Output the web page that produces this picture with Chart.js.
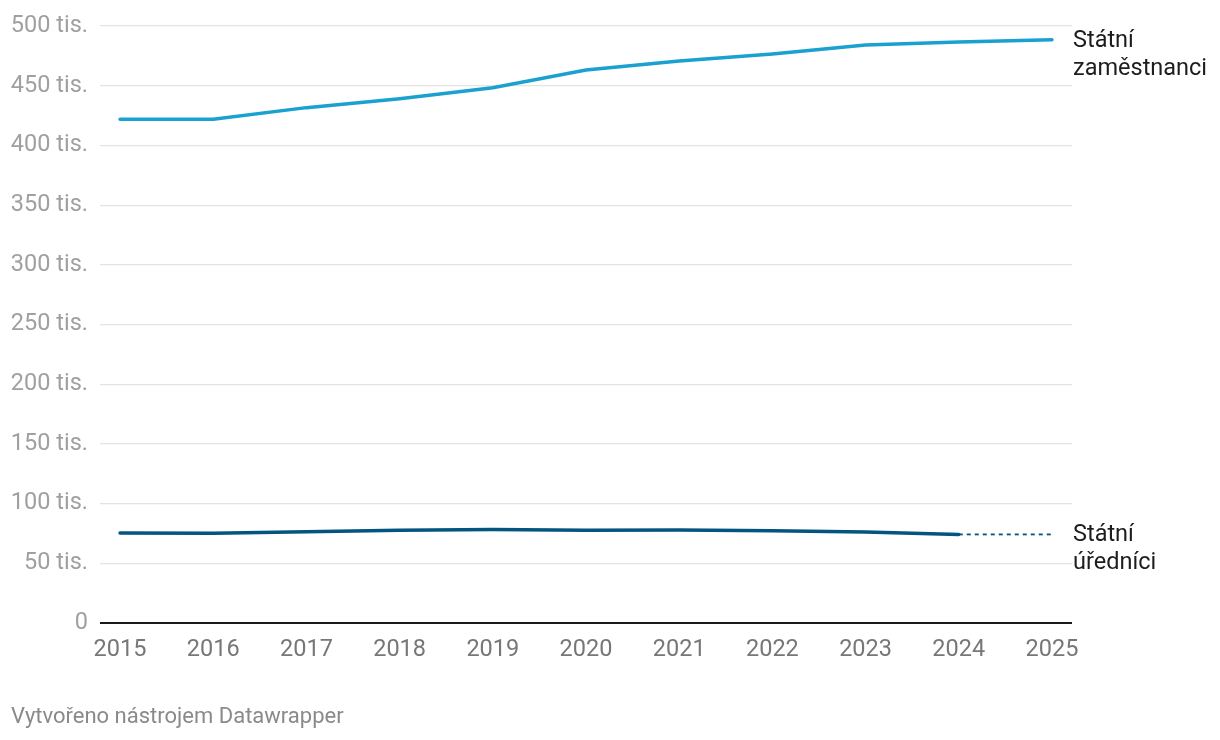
<!DOCTYPE html>
<html lang="cs">
<head>
<meta charset="utf-8">
<script src="https://cdn.jsdelivr.net/npm/chart.js@4"></script>
<style>
  html, body { margin: 0; padding: 0; background: #fff; }
  #wrap { position: relative; width: 1220px; height: 740px; }
  #footer {
    position: absolute; left: 11px; top: 703px;
    font-family: Roboto, sans-serif; font-size: 22px; color: #8a8a8a;
  }
</style>
</head>
<body>
<div id="wrap">
  <canvas id="chart" width="1220" height="740"></canvas>
  <div id="footer">Vytvořeno nástrojem Datawrapper</div>
</div>
<script>
// hodnoty v tisících
const years = [2015, 2016, 2017, 2018, 2019, 2020, 2021, 2022, 2023, 2024, 2025];
const zamestnanci = [421.9, 421.9, 431.7, 439.2, 448.3, 463.3, 470.8, 476.7, 484.2, 486.7, 488.6];
const urednici = [75.3, 75.2, 76.5, 77.6, 78.4, 77.7, 78.0, 77.2, 76.2, 74.2];
const yTicks = [0, 50, 100, 150, 200, 250, 300, 350, 400, 450, 500];

const colorZam = '#1aa1d0';
const colorUred = '#03557f';

function toPoints(values) {
    return values.map((v, i) => ({ x: years[i], y: v }));
}

const lastUred = urednici[urednici.length - 1];
const dashed = [
    { x: years[urednici.length - 1], y: lastUred },
    { x: years[years.length - 1], y: lastUred }
];

// popisky řad vpravo od grafu
const lineLabels = {
    id: 'lineLabels',
    afterDatasetsDraw(chart) {
        const ctx = chart.ctx;
        const yScale = chart.scales.y;
        const x = chart.chartArea.right + 1;
        const items = [
            { lines: ['Státní', 'zaměstnanci'], value: zamestnanci[zamestnanci.length - 1] },
            { lines: ['Státní', 'úředníci'], value: lastUred }
        ];
        ctx.save();
        ctx.font = '23.5px Roboto, sans-serif';
        ctx.fillStyle = '#1d1d1d';
        ctx.textAlign = 'left';
        ctx.textBaseline = 'middle';
        items.forEach(item => {
            const y0 = yScale.getPixelForValue(item.value) + 1;
            item.lines.forEach((t, i) => ctx.fillText(t, x, y0 + i * 28));
        });
        ctx.restore();
    }
};

new Chart(document.getElementById('chart'), {
    type: 'line',
    data: {
        datasets: [
            {
                label: 'Státní zaměstnanci',
                data: toPoints(zamestnanci),
                borderColor: colorZam,
                borderWidth: 3.5,
                borderCapStyle: 'round',
                pointRadius: 0,
                tension: 0
            },
            {
                label: 'Státní úředníci',
                data: toPoints(urednici),
                borderColor: colorUred,
                borderWidth: 3.5,
                borderCapStyle: 'round',
                pointRadius: 0,
                tension: 0
            },
            {
                label: 'Státní úředníci (odhad)',
                data: dashed,
                borderColor: colorUred,
                borderWidth: 1.8,
                borderDash: [4, 4],
                pointRadius: 0
            }
        ]
    },
    options: {
        responsive: false,
        animation: false,
        layout: { padding: { top: 19, right: 148, left: 0, bottom: 0 } },
        plugins: { legend: { display: false }, tooltip: { enabled: false } },
        scales: {
            x: {
                type: 'linear',
                min: years[0] - 0.215,
                max: years[years.length - 1] + 0.215,
                afterFit(scale) { scale.height = 117; },
                afterBuildTicks(scale) { scale.ticks = years.map(v => ({ value: v })); },
                grid: { display: false, drawTicks: false },
                border: { display: false },
                ticks: {
                    padding: 13,
                    color: '#777',
                    font: { family: 'Roboto', size: 23.5 },
                    maxRotation: 0,
                    callback: v => String(v)
                }
            },
            y: {
                min: 0,
                max: 500,
                afterFit(scale) { scale.width = 100; },
                afterBuildTicks(scale) { scale.ticks = yTicks.map(v => ({ value: v })); },
                grid: {
                    drawTicks: false,
                    color: c => c.tick && c.tick.value === 0 ? '#1a1a1a' : '#e3e3e3',
                    lineWidth: c => c.tick && c.tick.value === 0 ? 2 : 1.3
                },
                border: { display: false },
                ticks: {
                    padding: 12,
                    color: '#a0a0a0',
                    font: { family: 'Roboto', size: 23.5 },
                    callback: v => v === 0 ? '0' : v + ' tis.'
                }
            }
        }
    },
    plugins: [lineLabels]
});
</script>
</body>
</html>
